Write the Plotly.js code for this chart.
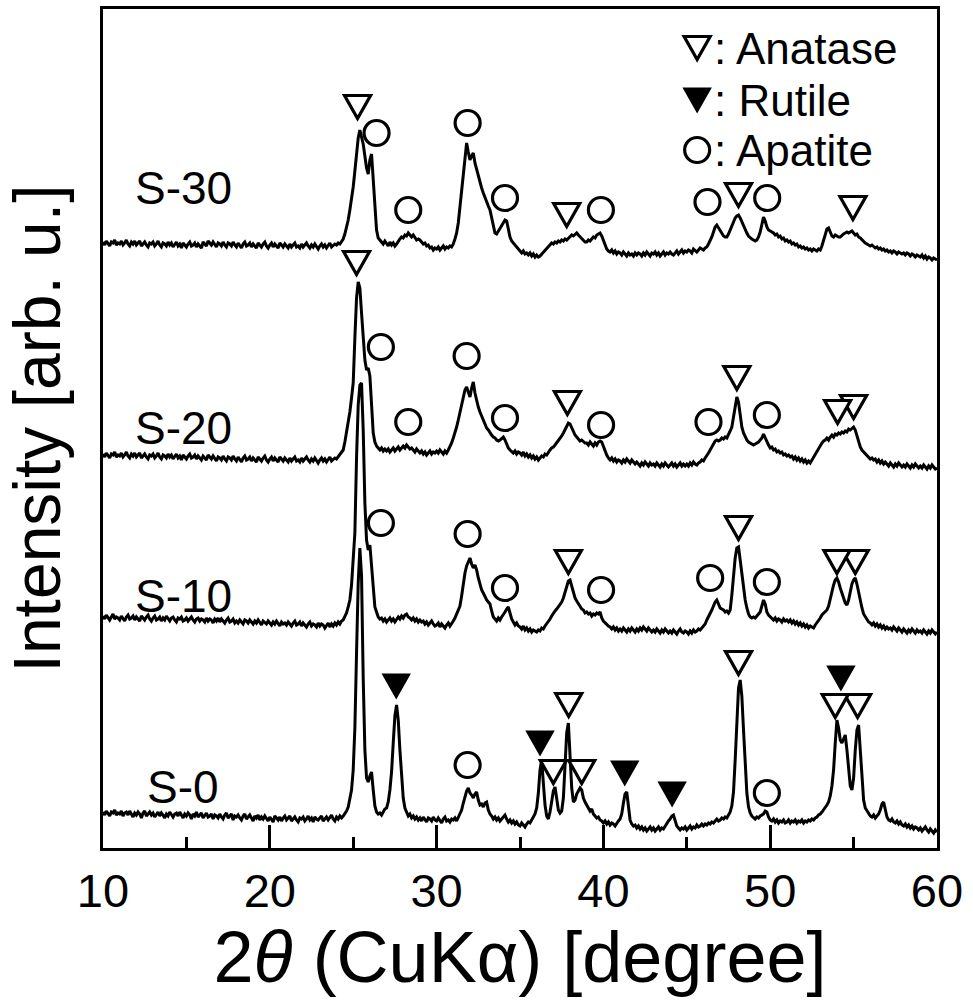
<!DOCTYPE html>
<html><head><meta charset="utf-8">
<script src="https://cdn.plot.ly/plotly-3.0.1.min.js"></script>
<style>html,body{margin:0;padding:0;background:#fff}</style>
</head><body>
<div id="chart" style="width:973px;height:1005px"></div>
<script>
// 2-theta sampling grid (degrees)
const twoThetaStart = 10;
const twoThetaStep = 0.1;
const sampleNames = ['S-0', 'S-10', 'S-20', 'S-30'];
const sampleOffsets = [10, 200, 370, 580];
const labelX = [14.8, 14.8, 14.8, 14.8];
const labelY = [61, 252, 420, 660];

// intensities (arb. u.), one row per degree, 10.0 ... 60.0
const S0 = [
26,23,27,24,22,26,25,28,23,25,
24,27,22,25,26,23,27,24,21,25,
23,26,24,20,25,27,22,24,26,23,
25,21,24,26,22,25,23,20,24,22,
26,23,21,24,25,22,26,23,20,24,
22,25,23,19,24,22,26,21,23,25,
20,23,25,21,22,24,19,23,22,20,
24,21,19,23,25,20,22,24,18,22,
21,23,20,18,22,24,19,21,23,20,
17,22,20,23,18,21,19,22,20,17,
21,19,16,22,20,18,21,17,20,22,
18,20,22,17,19,21,18,16,20,19,
21,17,19,22,18,20,16,21,19,18,
20,22,17,19,21,18,20,23,19,17,
21,19,22,20,22,24,27,31,38,48,
68,110,185,255,290,262,160,88,60,56,
62,66,48,32,26,24,25,23,26,29,
30,36,48,66,95,122,133,118,88,60,
40,30,25,22,24,20,22,19,21,18,
20,17,21,18,16,20,19,17,21,18,
17,20,18,15,19,21,17,18,16,19,
18,20,17,21,24,28,35,42,47,50,
45,43,40,44,46,38,33,34,31,35,
36,28,24,22,19,21,18,20,17,19,
21,23,19,16,18,15,17,14,16,13,
12,15,13,11,14,16,15,18,20,24,
30,45,68,78,55,33,22,19,26,36,
47,51,38,28,25,27,40,72,105,115,
88,50,36,38,44,47,50,48,40,36,
33,30,27,29,24,22,20,21,18,17,
15,17,14,16,13,15,14,12,15,17,
19,24,35,44,46,30,18,14,12,13,
10,12,9,11,8,10,7,9,11,8,
10,7,9,11,8,10,9,12,14,17,
19,22,23,17,12,10,8,10,9,11,
8,10,12,9,11,10,13,11,12,14,
12,14,13,15,14,16,15,17,19,17,
18,20,19,21,20,23,26,32,46,78,
118,150,158,142,108,72,45,31,25,22,
20,19,21,20,22,23,24,27,26,21,
18,17,19,16,18,15,17,16,18,15,
16,18,15,17,16,18,15,17,16,18,
15,17,16,18,17,19,18,20,21,23,
24,26,28,31,33,36,42,52,68,95,
118,110,98,95,100,103,88,65,52,48,
60,88,108,113,90,58,38,30,27,24,
22,21,23,20,22,24,28,34,36,27,
21,18,17,19,16,15,17,14,16,13,
12,14,11,13,10,12,9,11,10,8,
10,7,9,11,8,6,9,7,5,8,
6];

const S10 = [
32,29,33,30,28,31,34,29,31,30,
28,32,30,27,31,33,29,30,32,28,
31,29,27,32,30,28,31,33,29,27,
30,32,28,29,31,27,30,28,32,29,
27,30,31,28,26,30,29,31,27,28,
30,27,29,31,28,26,29,30,27,29,
28,26,30,27,29,28,25,29,27,30,
26,29,27,25,28,30,26,27,29,25,
27,25,28,26,24,28,27,25,28,26,
24,27,25,28,26,23,27,25,24,27,
25,23,26,24,27,25,22,26,24,25,
23,26,24,22,25,27,23,24,26,22,
25,23,21,24,26,22,24,23,21,25,
22,24,23,20,23,25,21,24,22,25,
23,26,24,27,28,31,35,41,48,63,
85,115,190,243,263,265,218,145,108,98,
103,81,53,41,36,31,29,30,27,29,
26,28,30,27,29,26,28,31,29,32,
30,33,34,31,30,28,30,27,29,26,
28,26,27,24,26,23,25,27,24,22,
23,25,21,24,22,20,23,25,22,24,
27,30,34,38,42,52,65,75,82,86,
90,84,80,83,78,70,64,58,55,51,
48,46,44,37,31,29,27,30,28,31,
33,36,39,41,35,29,26,23,25,22,
21,19,22,18,20,17,19,16,18,17,
16,18,17,20,19,22,24,27,29,32,
35,37,39,41,44,46,50,56,63,67,
68,62,55,50,47,44,41,39,38,35,
36,34,35,32,34,33,35,34,36,30,
27,25,23,22,21,19,21,18,20,17,
19,17,20,18,16,19,17,20,18,16,
19,17,20,18,21,19,17,20,18,16,
18,16,19,17,15,18,16,19,17,15,
17,15,18,16,14,17,19,16,15,17,
16,14,17,15,18,16,17,19,18,20,
22,24,28,31,35,38,42,46,48,44,
40,39,38,36,37,35,38,53,73,90,
100,101,88,73,58,48,40,34,31,30,
31,30,32,34,36,42,48,44,36,33,
31,30,28,30,27,29,28,26,29,27,
28,26,28,25,27,24,26,23,25,22,
24,21,23,20,22,21,20,23,25,28,
30,33,35,37,38,42,48,56,63,68,
70,66,60,55,50,45,43,48,56,64,
68,70,64,55,46,40,34,31,28,26,
25,23,25,22,24,21,23,20,22,19,
21,19,20,18,21,19,17,20,18,16,
19,17,15,18,16,19,17,15,18,16,
17,15,18,16,14,17,15,18,16,14,
16];

const S20 = [
24,21,25,22,20,24,23,26,21,23,
22,25,21,23,26,22,20,24,22,25,
21,23,25,20,22,24,21,19,23,22,
24,20,22,25,21,19,23,22,20,24,
21,23,19,22,24,20,22,18,23,21,
19,22,24,20,21,23,19,22,20,18,
22,20,18,23,21,19,22,20,17,21,
20,18,22,19,17,21,20,18,22,19,
17,21,19,16,20,22,18,19,21,17,
20,18,16,21,19,17,20,22,18,16,
19,21,17,20,18,16,21,19,17,20,
18,16,20,17,19,21,17,18,16,20,
17,19,21,18,16,19,17,20,18,15,
18,20,17,19,16,18,21,17,19,20,
19,21,23,25,28,36,45,55,66,80,
95,140,180,196,190,165,135,118,108,110,
102,72,45,36,32,30,28,30,27,29,
27,29,26,28,30,27,29,31,28,30,
32,30,33,31,29,30,28,26,29,27,
25,27,24,26,23,25,27,24,26,25,
27,25,28,26,24,27,25,28,31,35,
40,45,51,58,66,74,81,88,91,86,
81,90,96,85,77,71,66,61,58,54,
50,48,45,43,41,40,38,37,38,40,
41,38,33,30,28,26,25,27,24,26,
25,23,26,22,24,21,23,20,22,19,
21,18,20,22,21,24,23,26,28,30,
31,33,35,37,40,42,45,48,52,55,
54,50,46,43,41,39,37,38,36,35,
35,33,36,34,32,35,33,36,37,36,
31,27,23,20,18,20,17,19,16,18,
17,15,18,16,19,17,15,18,16,14,
16,14,12,15,13,16,14,12,15,13,
14,12,15,13,11,14,12,15,13,11,
13,15,12,14,11,13,15,12,14,12,
14,12,15,13,16,14,13,15,16,18,
17,20,22,25,28,31,34,37,38,37,
38,40,39,41,40,43,47,51,60,72,
81,76,62,51,45,41,38,36,35,34,
33,34,35,36,38,40,44,40,37,33,
30,31,28,29,26,27,25,26,23,24,
22,23,21,22,19,21,18,20,17,19,
16,18,15,17,15,18,20,23,26,30,
33,35,37,38,40,38,41,43,41,44,
43,45,44,46,45,47,46,49,48,50,
51,48,42,36,31,28,26,24,22,21,
19,20,18,19,16,18,15,17,14,16,
14,12,15,13,11,14,12,15,13,11,
13,11,14,12,10,13,11,14,12,10,
12,10,13,11,9,12,10,13,11,9,
10];

const S30 = [
26,23,27,24,22,26,25,28,23,25,
24,27,23,25,28,24,22,26,24,27,
23,25,27,22,24,26,23,21,25,24,
26,22,24,27,23,21,25,24,22,26,
23,25,21,24,26,22,24,20,25,23,
21,24,26,22,23,25,21,24,22,20,
26,24,22,27,25,23,26,24,21,25,
24,22,26,23,21,25,24,22,26,23,
21,25,23,20,24,26,22,23,25,21,
24,22,20,25,23,21,24,26,22,20,
23,25,21,24,22,20,25,23,21,24,
22,20,24,21,23,25,21,22,20,24,
21,23,25,22,20,23,21,24,22,19,
22,24,21,23,20,22,25,21,23,24,
23,25,24,26,29,34,40,48,58,68,
81,97,115,130,138,132,124,112,100,94,
108,114,85,55,38,30,28,26,24,27,
25,22,26,23,25,22,24,27,29,31,
30,33,32,35,33,31,33,30,28,29,
28,26,24,25,22,23,20,21,18,20,
19,21,18,20,22,19,21,20,22,21,
24,29,35,45,60,76,91,110,125,116,
108,112,115,105,98,91,86,80,75,70,
66,62,58,50,41,35,34,37,40,43,
45,48,47,38,31,27,25,22,20,18,
17,15,17,14,15,13,15,12,14,11,
13,11,12,14,16,18,20,22,23,25,
24,26,25,27,26,28,27,29,28,30,
31,33,32,34,35,33,31,29,27,26,
26,28,27,29,31,30,33,34,35,32,
27,23,19,17,16,18,15,17,14,16,
15,13,16,14,12,15,13,14,12,15,
13,15,14,12,15,13,16,14,12,15,
14,16,13,15,12,14,16,13,15,14,
16,14,13,15,17,14,16,18,15,17,
16,18,17,15,19,17,16,18,20,19,
18,20,21,24,27,31,36,41,43,40,
37,34,32,31,31,34,38,43,47,50,
52,53,50,46,42,38,35,32,30,29,
28,27,28,31,36,44,51,47,41,38,
37,36,35,33,34,31,32,29,30,27,
28,26,27,24,25,23,24,21,22,20,
21,19,20,18,19,17,19,18,17,19,
18,22,27,34,39,40,35,32,31,33,
32,31,31,33,34,35,36,35,36,37,
35,33,34,31,30,28,27,25,24,23,
22,23,21,20,21,19,20,18,19,17,
18,16,17,15,17,16,14,16,15,14,
15,13,15,14,12,14,13,11,13,12,
11,13,10,12,9,11,10,8,10,9,
8];

const seriesValues = [S0, S10, S20, S30];

// phase identification marks (2theta, stacked plot height)
const rutileX  = [27.58, 36.2, 41.28, 44.12, 54.24];
const rutileY  = [162, 105, 75, 54, 170];
const anataseX = [25.26, 37.8, 48.1, 54.96, 25.2, 37.84, 48.0, 55.0, 54.04, 37.9, 48.1, 55.1, 54.0, 37.0, 37.92, 38.7, 48.1, 55.24, 53.9];
const anataseY = [741, 633, 653, 640, 585, 445, 470, 441, 436, 286, 320, 286, 286, 76, 143, 76, 185, 142, 142];
const apatiteX = [26.4, 28.3, 31.86, 34.1, 39.85, 46.24, 49.82, 26.66, 28.3, 31.8, 34.1, 39.86, 46.3, 49.8, 26.66, 31.86, 34.1, 39.86, 46.4, 49.8, 31.86, 49.8];
const apatiteY = [715, 638, 725, 650, 638, 646, 650, 501, 426, 492, 430, 423, 426, 433, 325, 314, 260, 258, 270, 266, 83, 55];

// legend
const legendNames = [': Anatase', ': Rutile', ': Apatite'];
const legendKinds = ['anatase', 'rutile', 'apatite'];
const legendSymX = 45.62;
const legendTextX = 46.5;
const legendY = [800, 748, 698];

const FONT = 'Arial, "Liberation Sans", Helvetica, sans-serif';
const TRI = 'M-13,11.5L13,11.5L0,-11.5Z';

function mark(kind, x, y) {
  const base = {xref: 'x', yref: 'y', xsizemode: 'pixel', ysizemode: 'pixel', xanchor: x, yanchor: y, layer: 'above'};
  if (kind === 'apatite') {
    return Object.assign(base, {type: 'circle', x0: -12.5, x1: 12.5, y0: -12.5, y1: 12.5,
      line: {color: 'black', width: 3.2}, fillcolor: 'white'});
  }
  if (kind === 'rutile') {
    return Object.assign(base, {type: 'path', path: TRI, line: {color: 'black', width: 2}, fillcolor: 'black'});
  }
  return Object.assign(base, {type: 'path', path: TRI, line: {color: 'black', width: 3.2}, fillcolor: 'white'});
}

const traces = seriesValues.map((vals, k) => ({
  type: 'scatter', mode: 'lines', name: sampleNames[k],
  x: vals.map((_, i) => +(twoThetaStart + i * twoThetaStep).toFixed(1)),
  y: vals.map(v => v + sampleOffsets[k]),
  line: {color: 'black', width: 3},
  hoverinfo: 'skip', showlegend: false
}));

const shapes = [];
rutileX.forEach((x, i) => shapes.push(mark('rutile', x, rutileY[i])));
anataseX.forEach((x, i) => shapes.push(mark('anatase', x, anataseY[i])));
apatiteX.forEach((x, i) => shapes.push(mark('apatite', x, apatiteY[i])));
legendKinds.forEach((k, i) => shapes.push(mark(k, legendSymX, legendY[i])));

const annotations = [];
sampleNames.forEach((n, k) => annotations.push({
  x: labelX[k], y: labelY[k], xref: 'x', yref: 'y', text: n, showarrow: false,
  xanchor: 'center', yanchor: 'middle', font: {family: FONT, size: 46, color: 'black'}
}));
legendNames.forEach((n, i) => annotations.push({
  x: legendTextX, y: legendY[i], xref: 'x', yref: 'y', text: n, showarrow: false,
  xanchor: 'left', yanchor: 'middle', font: {family: FONT, size: 44, color: 'black'}
}));

const layout = {
  width: 973, height: 1005,
  margin: {l: 103, r: 36, t: 9, b: 157},
  paper_bgcolor: 'white', plot_bgcolor: 'white',
  showlegend: false,
  font: {family: FONT, color: 'black'},
  xaxis: {
    range: [10, 60], tickmode: 'linear', tick0: 10, dtick: 10,
    ticks: 'inside', ticklen: 23, tickwidth: 3, tickcolor: 'black',
    minor: {dtick: 5, ticks: 'inside', ticklen: 11, tickwidth: 3, tickcolor: 'black', showgrid: false},
    showline: true, mirror: true, linewidth: 3, linecolor: 'black',
    showgrid: false, zeroline: false,
    tickfont: {family: FONT, size: 47, color: 'black'},
    title: {text: '2<i>θ</i> (CuKα) [degree]', font: {family: FONT, size: 72, color: 'black'}, standoff: 16}
  },
  yaxis: {
    range: [0, 839], showticklabels: false, ticks: '',
    showline: true, mirror: true, linewidth: 3, linecolor: 'black',
    showgrid: false, zeroline: false,
    title: {text: 'Intensity [arb. u.]', font: {family: FONT, size: 66, color: 'black'}, standoff: 22}
  },
  shapes: shapes,
  annotations: annotations
};

Plotly.newPlot('chart', traces, layout, {displayModeBar: false, staticPlot: true});
</script>
</body></html>
